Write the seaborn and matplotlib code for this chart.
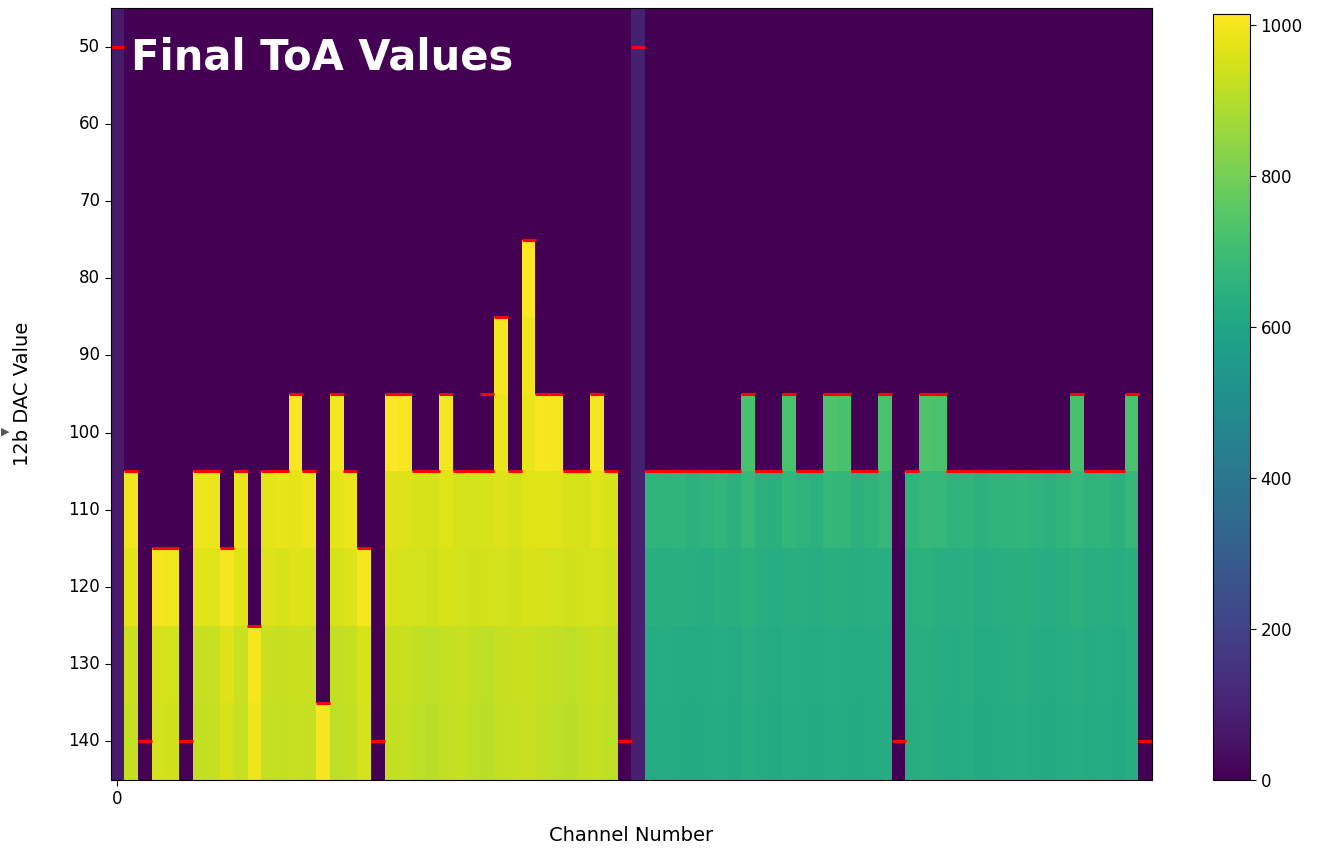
import numpy as np
import pandas as pd
import matplotlib
matplotlib.use('Agg')
import matplotlib.pyplot as plt
import seaborn as sns

# DAC rows (row centres) and channel columns
dac_values = [50, 60, 70, 80, 90, 100, 110, 120, 130, 140]
channels = list(range(76))

# ToA value per channel for each DAC row (76 channels each)
row_50 = "70 0 0 0 0 0 0 0 0 0  0 0 0 0 0 0 0 0 0 0  0 0 0 0 0 0 0 0 0 0  0 0 0 0 0 0 0 0 90 0  0 0 0 0 0 0 0 0 0 0  0 0 0 0 0 0 0 0 0 0  0 0 0 0 0 0 0 0 0 0  0 0 0 0 0 0"
row_60 = "70 0 0 0 0 0 0 0 0 0  0 0 0 0 0 0 0 0 0 0  0 0 0 0 0 0 0 0 0 0  0 0 0 0 0 0 0 0 90 0  0 0 0 0 0 0 0 0 0 0  0 0 0 0 0 0 0 0 0 0  0 0 0 0 0 0 0 0 0 0  0 0 0 0 0 0"
row_70 = "70 0 0 0 0 0 0 0 0 0  0 0 0 0 0 0 0 0 0 0  0 0 0 0 0 0 0 0 0 0  0 0 0 0 0 0 0 0 90 0  0 0 0 0 0 0 0 0 0 0  0 0 0 0 0 0 0 0 0 0  0 0 0 0 0 0 0 0 0 0  0 0 0 0 0 0"
row_80 = "70 0 0 0 0 0 0 0 0 0  0 0 0 0 0 0 0 0 0 0  0 0 0 0 0 0 0 0 0 0  1008 0 0 0 0 0 0 0 90 0  0 0 0 0 0 0 0 0 0 0  0 0 0 0 0 0 0 0 0 0  0 0 0 0 0 0 0 0 0 0  0 0 0 0 0 0"
row_90 = "70 0 0 0 0 0 0 0 0 0  0 0 0 0 0 0 0 0 0 0  0 0 0 0 0 0 0 0 1000 0  995 0 0 0 0 0 0 0 90 0  0 0 0 0 0 0 0 0 0 0  0 0 0 0 0 0 0 0 0 0  0 0 0 0 0 0 0 0 0 0  0 0 0 0 0 0"
row_100 = ("70 0 0 0 0 0 0 0 0 0  0 0 0 1005 0 0 1000 0 0 0  1010 1005 0 0 1000 0 0 0 985 0  "
           "980 1005 1000 0 0 1000 0 0 90 0  0 0 0 0 0 0 720 0 0 725  0 0 730 720 0 0 725 0 0 730  "
           "725 0 0 0 0 0 0 0 0 0  720 0 0 0 725 0")
row_110 = ("70 995 0 0 0 0 990 985 0 985  0 975 980 975 990 0 975 985 0 0  965 960 955 950 965 950 945 955 960 950  "
           "965 970 965 955 950 965 955 0 90 660  655 660 650 655 665 650 675 650 645 670  655 650 675 670 650 655 675 0 660 680  "
           "675 655 660 650 655 660 665 655 650 660  675 655 660 650 675 0")
row_120 = ("70 975 0 1000 995 0 970 965 1000 970  0 960 955 965 960 0 950 960 1000 0  955 950 945 940 955 945 940 950 945 940  "
           "955 950 945 940 945 950 940 0 90 645  640 645 635 630 645 640 650 635 630 640  635 630 645 640 630 635 640 0 645 650  "
           "640 635 645 630 635 640 645 635 630 640  650 635 640 630 645 0")
row_130 = ("70 930 0 950 945 0 925 930 960 935  1000 930 925 935 930 0 920 925 955 0  925 930 920 915 925 930 920 915 925 930  "
           "935 925 920 915 925 930 920 0 90 625  630 625 620 625 630 620 635 625 620 630  625 620 630 625 620 625 630 0 635 640  "
           "630 625 635 620 625 630 635 625 620 630  635 625 630 620 635 0")
row_140 = ("70 925 0 945 940 0 920 925 950 930  990 925 920 930 925 1000 915 920 950 0  920 925 915 910 920 925 915 910 920 925  "
           "930 920 915 910 920 925 915 0 90 620  625 620 615 620 625 615 630 620 615 625  620 615 625 620 615 620 625 0 630 635  "
           "625 620 630 615 620 625 630 620 615 625  630 620 625 615 630 0")

# threshold marker (DAC value) per channel
marker_ch = channels + [27]
marker_dac = [50, 105, 140, 115, 115, 140, 105, 105, 115, 105,
              125, 105, 105, 95, 105, 135, 95, 105, 115, 140,
              95, 95, 105, 105, 95, 105, 105, 105, 85, 105,
              75, 95, 95, 105, 105, 95, 105, 140, 50, 105,
              105, 105, 105, 105, 105, 105, 95, 105, 105, 95,
              105, 105, 95, 95, 105, 105, 95, 140, 105, 95,
              95, 105, 105, 105, 105, 105, 105, 105, 105, 105,
              95, 105, 105, 105, 95, 140] + [95]

rows = [row_50, row_60, row_70, row_80, row_90, row_100, row_110, row_120, row_130, row_140]
grid = np.array([[int(v) for v in r.split()] for r in rows])
df = pd.DataFrame(grid, index=dac_values, columns=channels)

fig = plt.figure(figsize=(13.32, 8.5), dpi=100)
ax = fig.add_axes([0.083, 0.0824, 0.782, 0.9082])
cax = fig.add_axes([0.9107, 0.0824, 0.0278, 0.901])

sns.heatmap(df, ax=ax, cbar_ax=cax, cmap='viridis', vmin=0, vmax=1015,
            xticklabels=False, yticklabels=True)

# red threshold markers, mapped onto heatmap cell coordinates
mx = np.array(marker_ch) + 0.5
my = (np.array(marker_dac) - dac_values[0] + 5) / 10.0
ax.plot(mx, my, linestyle='none', marker='_', color='red', markersize=10, markeredgewidth=2.2)

ax.set_yticks(np.arange(len(dac_values)) + 0.5)
ax.set_yticklabels(dac_values, rotation=0, fontsize=12)
ax.set_xticks([0.5])
ax.set_xticklabels(['0'], rotation=0, fontsize=12)
ax.tick_params(length=4, width=0.8, color='black')
for s in ax.spines.values():
    s.set_visible(True)
    s.set_linewidth(0.8)

ax.set_xlabel('Channel Number', fontsize=14, labelpad=13)
ax.set_ylabel('12b DAC Value', fontsize=14, labelpad=26)

ax.text(0.02, 0.936, 'Final ToA Values', transform=ax.transAxes, color='white',
        fontsize=30, fontweight='bold', va='center', ha='left')

cbar = ax.collections[0].colorbar
cbar.outline.set_visible(True)
cbar.outline.set_linewidth(0.8)
cbar.outline.set_edgecolor('black')
cbar.set_ticks([0, 200, 400, 600, 800, 1000])
cax.tick_params(labelsize=12, length=4, width=0.8)

fig.text(0.001, 1 - 432 / 850, '\u25b6', color='#555555', fontsize=8, va='center', ha='left')

fig.savefig('out.png', dpi=100)
